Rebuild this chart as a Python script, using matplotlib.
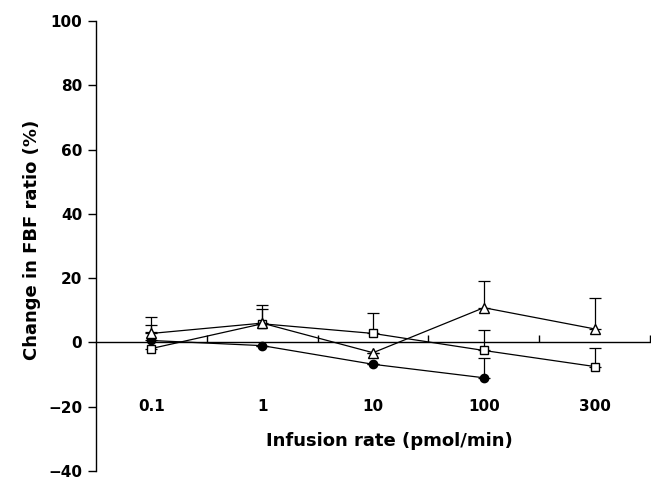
import matplotlib
matplotlib.use("Agg")
import matplotlib.pyplot as plt
import numpy as np

plt.rcParams['font.family'] = ['DejaVu Sans']
plt.rcParams['font.weight'] = 'bold'

# dose categories
rates = ['0.1', '1', '10', '100', '300']

# mean change and upper SEM for each group
circ_y = [0.6, -1.0, -6.8, -11.0]
circ_err = [4.7, 0.0, 0.0, 6.3]
sq_y = [-1.9, 5.8, 2.8, -2.5, -7.5]
sq_err = [5.2, 4.5, 6.3, 6.5, 5.7]
tri_y = [2.8, 6.0, -3.2, 10.8, 4.2]
tri_err = [5.2, 5.5, 0.0, 8.2, 9.6]

fig = plt.figure(figsize=(6.51, 4.79), dpi=100)
ax = fig.add_axes([0.1475, 0.0167, 0.851, 0.9395])

x = np.arange(len(rates))
lw = 0.9
eb = dict(color='black', lw=lw, mec='black', capsize=4.5,
          elinewidth=lw, capthick=lw)

ax.errorbar(x[:len(circ_y)], circ_y, yerr=[np.zeros(len(circ_y)), circ_err],
            marker='o', ms=6, mfc='black', zorder=3, **eb)
ax.errorbar(x, sq_y, yerr=[np.zeros(len(sq_y)), sq_err],
            marker='s', ms=6, mfc='white', zorder=4, **eb)
ax.errorbar(x, tri_y, yerr=[np.zeros(len(tri_y)), tri_err],
            marker='^', ms=7, mfc='white', zorder=5, **eb)

ax.set_xlim(-0.5, 4.5)
ax.set_ylim(-40, 100)
ax.spines['top'].set_visible(False)
ax.spines['right'].set_visible(False)
ax.spines['bottom'].set_position(('data', 0))
ax.spines['left'].set_linewidth(1.0)
ax.spines['bottom'].set_linewidth(1.0)

ax.set_yticks(np.arange(-40, 101, 20))
ax.set_yticklabels(['\u221240', '\u221220', '0', '20', '40', '60', '80', '100'])
ax.tick_params(axis='y', direction='out', length=6, width=1.0, pad=4, labelsize=11)
ax.set_xticks(x + 0.5)
ax.set_xticklabels([])
ax.tick_params(axis='x', direction='in', length=5, width=1.0)

for xi, lab in zip(x, rates):
    ax.text(xi, -20, lab, ha='center', va='center', fontsize=11, fontweight='bold')

ax.text(2.15, -30.6, 'Infusion rate (pmol/min)', ha='center', va='center',
        fontsize=13, fontweight='bold')
ax.text(-0.115, 0.513, 'Change in FBF ratio (%)', rotation=90, ha='center',
        va='center', transform=ax.transAxes, fontsize=13, fontweight='bold')

fig.savefig('out.png', dpi=100)
